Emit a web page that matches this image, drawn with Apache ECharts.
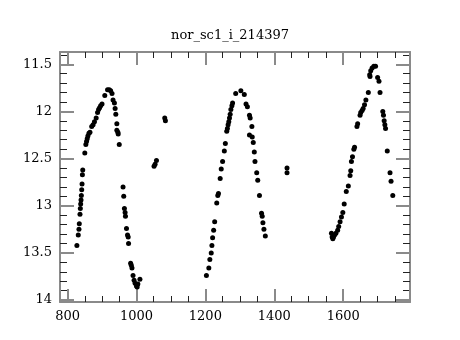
<!DOCTYPE html>
<html>
<head>
<meta charset="utf-8">
<script src="https://cdn.jsdelivr.net/npm/echarts@6/dist/echarts.min.js"></script>
<style>
  html, body { margin: 0; padding: 0; background: #fff; }
  #chart { width: 460px; height: 340px; }
</style>
</head>
<body>
<div id="chart"></div>
<script>
// light curve points, x = day, y = magnitude
var days = [
  827, 831, 833, 834, 836, 837, 838, 839, 840, 841, 842, 843, 844, 850, 853, 855, 857, 859, 862, 865,
  870, 874, 878, 883, 887, 890, 893, 896, 900, 908, 916, 921, 925, 929, 932, 936, 938, 940, 943, 943,
  946, 947, 950, 961, 963, 965, 967, 968, 971, 974, 976, 977, 983, 985, 987, 990, 993, 996, 1000, 1002,
  1004, 1010, 1051, 1054, 1058, 1082, 1084,
  1203, 1210, 1213, 1217, 1219, 1221, 1224, 1227, 1233, 1236, 1238, 1243, 1246, 1250, 1255, 1258, 1262, 1264,
  1266, 1268, 1270, 1272, 1274, 1277, 1279, 1288, 1303, 1313, 1318, 1322, 1328, 1330, 1335, 1328, 1336, 1339,
  1342, 1344, 1349, 1352, 1357, 1363, 1365, 1367, 1370, 1374, 1437, 1437,
  1566, 1568, 1570, 1572, 1575, 1579, 1584, 1587, 1591, 1595, 1599, 1603, 1609, 1615, 1620, 1622, 1624, 1627,
  1631, 1633, 1640, 1642, 1649, 1651, 1655, 1658, 1662, 1666, 1673, 1677, 1678, 1680, 1684, 1689, 1694, 1700,
  1704, 1707, 1715, 1717, 1719, 1721, 1723, 1728, 1736, 1739, 1744
];
var mags = [
  13.42, 13.31, 13.25, 13.19, 13.09, 13.03, 12.98, 12.94, 12.89, 12.83, 12.77, 12.67, 12.62, 12.44, 12.35, 12.32, 12.29, 12.26, 12.23, 12.22,
  12.16, 12.14, 12.11, 12.07, 12.01, 11.98, 11.96, 11.94, 11.92, 11.83, 11.77, 11.77, 11.78, 11.81, 11.88, 11.91, 11.97, 12.03, 12.13, 12.20,
  12.22, 12.24, 12.35, 12.80, 12.90, 13.03, 13.07, 13.11, 13.24, 13.31, 13.33, 13.40, 13.61, 13.63, 13.66, 13.74, 13.79, 13.82, 13.85, 13.86,
  13.83, 13.78, 12.58, 12.56, 12.52, 12.07, 12.10,
  13.74, 13.66, 13.57, 13.50, 13.42, 13.34, 13.26, 13.17, 12.97, 12.89, 12.87, 12.71, 12.61, 12.53, 12.42, 12.34, 12.21, 12.18,
  12.14, 12.11, 12.07, 12.03, 11.98, 11.94, 11.91, 11.81, 11.78, 11.82, 11.92, 11.95, 12.04, 12.07, 12.16, 12.25, 12.27, 12.33,
  12.43, 12.53, 12.65, 12.73, 12.89, 13.08, 13.11, 13.18, 13.25, 13.32, 12.60, 12.65,
  13.29, 13.33, 13.35, 13.33, 13.31, 13.29, 13.26, 13.22, 13.17, 13.12, 13.07, 12.98, 12.85, 12.79, 12.68, 12.63, 12.53, 12.48,
  12.40, 12.38, 12.16, 12.13, 12.04, 12.01, 11.99, 11.97, 11.93, 11.88, 11.80, 11.61, 11.63, 11.57, 11.54, 11.52, 11.52, 11.64,
  11.68, 11.80, 12.00, 12.04, 12.10, 12.14, 12.18, 12.42, 12.65, 12.74, 12.89
];

var points = days.map(function (d, i) { return [d, mags[i]]; });

var font = 'DejaVu Serif';
var frameColor = '#8a8a8a';

function plain(v) { return String(v); }

function xAx(pos, labels) {
    return {
        type: 'value', position: pos, min: 778, max: 1794, splitNumber: 5,
        axisLine: { show: true, onZero: false, lineStyle: { color: frameColor, width: 2 } },
        axisTick: { show: true, inside: true, length: 13, lineStyle: { color: frameColor, width: 2 } },
        minorTick: { show: true, splitNumber: 4, length: 6, lineStyle: { color: '#222', width: 1 } },
        axisLabel: { show: labels, showMinLabel: false, showMaxLabel: false, formatter: plain, color: '#000', fontFamily: font, fontSize: 13, margin: 8 },
        splitLine: { show: false }
    };
}
function yAx(pos, labels) {
    return {
        type: 'value', position: pos, min: 11.37, max: 14.02, inverse: true, splitNumber: 5,
        axisLine: { show: true, onZero: false, lineStyle: { color: frameColor, width: 2 } },
        axisTick: { show: true, inside: true, length: 14, lineStyle: { color: frameColor, width: 2 } },
        minorTick: { show: true, splitNumber: 5, length: 7, lineStyle: { color: '#222', width: 1 } },
        axisLabel: { show: labels, showMinLabel: false, showMaxLabel: false, formatter: plain, color: '#000', fontFamily: font, fontSize: 13, margin: 8 },
        splitLine: { show: false }
    };
}

var myChart = echarts.init(document.getElementById('chart'), null, { renderer: 'canvas' });

var option = {
    animation: false,
    backgroundColor: '#fff',
    title: {
        text: 'nor_sc1_i_214397',
        left: 'center',
        top: 24,
        textStyle: { fontFamily: font, fontSize: 13, fontWeight: 'normal', color: '#000' }
    },
    grid: { left: 60, right: 50, top: 52, bottom: 38 },
    xAxis: [xAx('bottom', true), xAx('top', false)],
    yAxis: [yAx('left', true), yAx('right', false)],
    series: [{
        type: 'scatter',
        data: points,
        symbolSize: 5,
        itemStyle: { color: '#000', opacity: 1 }
    }]
};

myChart.setOption(option);
</script>
</body>
</html>
